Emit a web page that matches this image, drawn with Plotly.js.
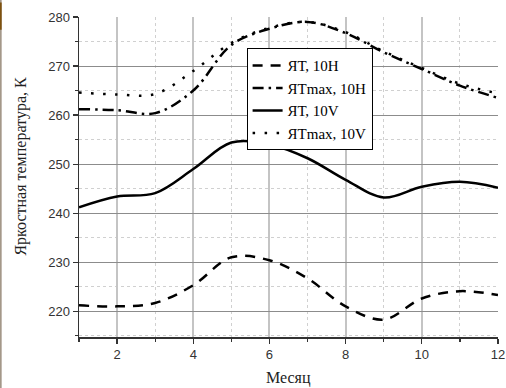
<!DOCTYPE html>
<html>
<head>
<meta charset="utf-8">
<script src="https://cdn.plot.ly/plotly-3.0.1.min.js"></script>
<style>html,body{margin:0;padding:0;background:#fff;}#chart{width:506px;height:388px;}</style>
</head>
<body>
<div id="chart"></div>
<script>
// Months
var months = [1, 2, 3, 4, 5, 6, 7, 8, 9, 10, 11, 12];
// Series values (K)
var ytH    = [221.2, 221.0, 221.7, 225.3, 231.0, 230.4, 226.7, 221.0, 218.3, 222.6, 224.1, 223.3];
var ytMaxH = [261.2, 261.0, 260.4, 265.0, 274.3, 277.6, 279.0, 276.7, 272.8, 269.4, 266.0, 263.5];
var ytV    = [241.2, 243.4, 244.1, 249.0, 254.4, 254.0, 251.2, 246.8, 243.2, 245.4, 246.4, 245.2];
var ytMaxV = [264.6, 264.2, 264.3, 269.0, 274.7, 277.8, 279.0, 276.9, 273.0, 269.6, 266.4, 264.4];
var seriesNames = ["ЯТ, 10H", "ЯТmax, 10H", "ЯТ, 10V", "ЯТmax, 10V"];
var xTitle = "Месяц";
var yTitle = "Яркостная температура, К";

var lw = 2.5;
function tr(y, name, dash) {
  return {x: months, y: y, name: name, type: 'scatter', mode: 'lines',
          line: {color: '#000', width: lw, dash: dash, shape: 'spline', smoothing: 1}};
}
var data = [
  tr(ytH, seriesNames[0], '10px,8px'),
  tr(ytMaxH, seriesNames[1], '11px,5px,2.5px,5px'),
  tr(ytV, seriesNames[2], 'solid'),
  tr(ytMaxV, seriesNames[3], '2.5px,9.5px')
];

var layout = {
  width: 506, height: 388,
  margin: {l: 79, r: 8, t: 17, b: 51, pad: 0},
  paper_bgcolor: '#fff', plot_bgcolor: '#fff',
  showlegend: true,
  legend: {x: 0.40, y: 0.902, xanchor: 'left', yanchor: 'top',
           bgcolor: '#fff', bordercolor: '#000', borderwidth: 1,
           font: {family: 'Liberation Serif', size: 15, color: '#000'},
           tracegroupgap: 0},
  xaxis: {range: [1, 12], tick0: 0, dtick: 2, showline: true, linecolor: '#333', linewidth: 1.5,
          ticks: 'outside', ticklen: 5, tickcolor: '#333', tickwidth: 1.2,
          showgrid: true, gridcolor: '#c4c4c4', gridwidth: 2, zeroline: false,
          tickfont: {family: 'Liberation Sans', size: 13, color: '#333'},
          minor: {dtick: 1, tick0: 0, showgrid: true, gridcolor: '#d0d0d0', griddash: 'dot', gridwidth: 1,
                  ticks: 'outside', ticklen: 3, tickcolor: '#333'}},
  yaxis: {range: [214.75, 280], tick0: 0, dtick: 10, showline: true, linecolor: '#333', linewidth: 1.5,
          ticks: 'outside', ticklen: 5, tickcolor: '#333', tickwidth: 1.2,
          showgrid: true, gridcolor: '#8c8c8c', gridwidth: 1, zeroline: false,
          tickfont: {family: 'Liberation Sans', size: 13, color: '#333'},
          minor: {dtick: 5, tick0: 0, showgrid: true, gridcolor: '#d0d0d0', griddash: 'dot', gridwidth: 1,
                  ticks: 'outside', ticklen: 3, tickcolor: '#333'}},
  annotations: [
    {text: xTitle, xref: 'paper', yref: 'paper', x: 0.5, y: -0.129, xanchor: 'center', yanchor: 'middle',
     showarrow: false, font: {family: 'Liberation Serif', size: 16, color: '#222'}},
    {text: yTitle, xref: 'paper', yref: 'paper', x: -0.138, y: 0.533, xanchor: 'center', yanchor: 'middle',
     textangle: -90, showarrow: false, font: {family: 'Liberation Serif', size: 16, color: '#222'}}
  ],
  shapes: [
    {type: 'line', xref: 'paper', yref: 'paper', x0: -0.1865, x1: -0.1865, y0: -0.16, y1: 1.06,
     line: {color: '#9a8c7c', width: 1.5}},
    {type: 'line', xref: 'paper', yref: 'paper', x0: -0.1865, x1: -0.1865, y0: 0.96, y1: 1.045,
     line: {color: '#7a4a00', width: 1.5}}
  ]
};
Plotly.newPlot('chart', data, layout, {staticPlot: true, displayModeBar: false});
</script>
</body>
</html>
